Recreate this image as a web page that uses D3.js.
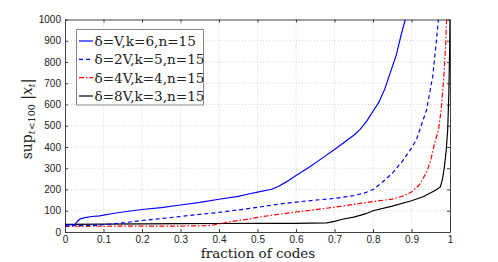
<!DOCTYPE html>
<html><head><meta charset="utf-8">
<script src="https://cdn.jsdelivr.net/npm/d3@7"></script>
<style>body{margin:0;background:#fff}svg{display:block}</style>
</head><body><svg id="c" width="498" height="262"></svg>
<script>
const xTicks = [0,0.1,0.2,0.3,0.4,0.5,0.6,0.7,0.8,0.9,1];
const xTickLabels = ["0","0.1","0.2","0.3","0.4","0.5","0.6","0.7","0.8","0.9","1"];
const yTicks = [0,100,200,300,400,500,600,700,800,900,1000];
const yTickLabels = ["0","100","200","300","400","500","600","700","800","900","1000"];
const seriesNames = ["\u03b4=V,k=6,n=15","\u03b4=2V,k=5,n=15","\u03b4=4V,k=4,n=15","\u03b4=8V,k=3,n=15"];

const s1x = [0,0.026,0.03,0.035,0.04,0.052,0.07,0.09,0.1,0.12,0.15,0.2,0.25,0.3,0.35,0.4,0.45,0.48,0.5,0.537,0.555,0.576,0.6,0.636,0.67,0.7,0.73,0.75,0.766,0.785,0.8,0.815,0.83,0.845,0.86,0.874,0.884];
const s1y = [33,34,45,55,62,68,73,76,79,86,94,106,115,127,139,154,168,180,188,201,215,237,266,307,350,388,428,455,482,525,568,610,670,750,830,935,1000];

const s2x = [0,0.05,0.08,0.1,0.15,0.2,0.25,0.3,0.35,0.4,0.48,0.5,0.55,0.6,0.65,0.7,0.75,0.78,0.8,0.825,0.85,0.875,0.9,0.913,0.925,0.939,0.955,0.964,0.970];
const s2y = [29,30,31,34,43,54,63,73,83,92,111,116,130,141,150,158,171,185,200,235,276,330,395,435,500,574,731,888,1000];

const s3x = [0,0.1,0.2,0.3,0.35,0.38,0.4,0.43,0.48,0.5,0.55,0.6,0.65,0.7,0.75,0.8,0.85,0.88,0.9,0.92,0.94,0.95,0.96,0.97,0.977,0.984,0.989,0.991];
const s3y = [27,27,28,28,29,31,38,49,62,69,82,94,105,117,130,143,155,170,188,221,284,339,417,480,574,731,888,1000];

const s4x = [0,0.1,0.2,0.3,0.4,0.5,0.6,0.68,0.7,0.72,0.75,0.78,0.8,0.85,0.9,0.93,0.96,0.975,0.98,0.985,0.99,0.994,0.997,0.999,1.0];
const s4y = [36,37,38,39,40,41,41,43,50,60,70,85,100,122,147,166,194,212,245,300,380,480,650,850,1000];

const svg = d3.select("#c");
const L = 65, R = 450, T = 19.5, B = 232;
const x = d3.scaleLinear().domain([0,1]).range([L,R]);
const y = d3.scaleLinear().domain([0,1000]).range([B,T]);
const axisCol = "#404040";

// grid
const g = svg.append("g");
g.selectAll(".gx").data(xTicks.slice(1,-1)).enter().append("line")
  .attr("x1",d=>x(d)).attr("x2",d=>x(d)).attr("y1",T).attr("y2",B)
  .attr("stroke","#c8c8c8").attr("stroke-width",0.8).attr("stroke-dasharray","1,2");
g.selectAll(".gy").data(yTicks.slice(1,-1)).enter().append("line")
  .attr("y1",d=>y(d)).attr("y2",d=>y(d)).attr("x1",L).attr("x2",R)
  .attr("stroke","#c8c8c8").attr("stroke-width",0.8).attr("stroke-dasharray","1,2");

// axes with inner ticks
const fmtX = (d,i)=>xTickLabels[i];
const fmtY = (d,i)=>yTickLabels[i];
const axB = svg.append("g").attr("transform",`translate(0,${B})`)
  .call(d3.axisBottom(x).tickValues(xTicks).tickFormat(fmtX).tickSizeInner(-3).tickSizeOuter(0).tickPadding(3.5));
const axL = svg.append("g").attr("transform",`translate(${L},0)`)
  .call(d3.axisLeft(y).tickValues(yTicks).tickFormat(fmtY).tickSizeInner(-3).tickSizeOuter(0).tickPadding(4));
const axT = svg.append("g").attr("transform",`translate(0,${T})`)
  .call(d3.axisTop(x).tickValues(xTicks).tickFormat("").tickSizeInner(-3).tickSizeOuter(0));
const axR = svg.append("g").attr("transform",`translate(${R},0)`)
  .call(d3.axisRight(y).tickValues(yTicks).tickFormat("").tickSizeInner(-3).tickSizeOuter(0));
[axB,axL,axT,axR].forEach(a=>{
  a.selectAll("path").attr("stroke",axisCol);
  a.selectAll("line").attr("stroke",axisCol);
  a.selectAll("text").attr("fill","#222").style("font-family","'Liberation Sans',Arial,sans-serif").style("font-size","10px");
});

// lines
const series = [
  {x:s1x,y:s1y,color:"#0000ff",dash:null},
  {x:s2x,y:s2y,color:"#0000ff",dash:"4,3"},
  {x:s3x,y:s3y,color:"#ff0000",dash:"5,2,1.5,2"},
  {x:s4x,y:s4y,color:"#000000",dash:null}
];
const line = d3.line().x(d=>x(d[0])).y(d=>y(d[1]));
svg.append("clipPath").attr("id","pc").append("rect").attr("x",L).attr("y",T).attr("width",R-L).attr("height",B-T);
const lg = svg.append("g").attr("clip-path","url(#pc)");
series.slice().reverse().forEach(s=>{
  const pts = s.x.map((v,i)=>[v,s.y[i]]);
  lg.append("path").datum(pts).attr("d",line).attr("fill","none")
    .attr("stroke",s.color).attr("stroke-width",1.2)
    .attr("stroke-dasharray",s.dash);
});

// legend
const leg = svg.append("g");
leg.append("rect").attr("x",76.5).attr("y",29.5).attr("width",127).attr("height",75.5)
  .attr("fill","#fff").attr("stroke","#888").attr("stroke-width",1);
const legY = d3.scalePoint().domain(d3.range(4)).range([41,96]);
series.forEach((s,i)=>{
  const yy = legY(i);
  leg.append("line").attr("x1",79).attr("x2",93).attr("y1",yy).attr("y2",yy)
    .attr("stroke",s.color).attr("stroke-width",1.2).attr("stroke-dasharray",s.dash);
  leg.append("text").attr("x",94.5).attr("y",yy+5).text(seriesNames[i])
    .style("font-family","'DejaVu Serif',serif").style("font-size","13.6px").attr("fill","#222");
});

// x label
svg.append("text").attr("x",258).attr("y",258).attr("text-anchor","middle")
  .style("font-family","'DejaVu Serif',serif").style("font-size","13.5px").attr("fill","#222")
  .text("fraction of codes");

// y label
const yl = svg.append("text").attr("transform","translate(32,119) rotate(-90)")
  .attr("text-anchor","middle").style("font-family","'DejaVu Serif',serif").style("font-size","14px").attr("fill","#222");
yl.append("tspan").text("sup");
yl.append("tspan").attr("dy",3).style("font-size","9.5px").style("font-style","italic").text("t");
yl.append("tspan").style("font-size","9.5px").text("<100");
yl.append("tspan").attr("dy",-3).text(" |");
yl.append("tspan").style("font-style","italic").text("x");
yl.append("tspan").attr("dy",3).style("font-size","9.5px").style("font-style","italic").text("t");
yl.append("tspan").attr("dy",-3).text("|");
</script></body></html>
